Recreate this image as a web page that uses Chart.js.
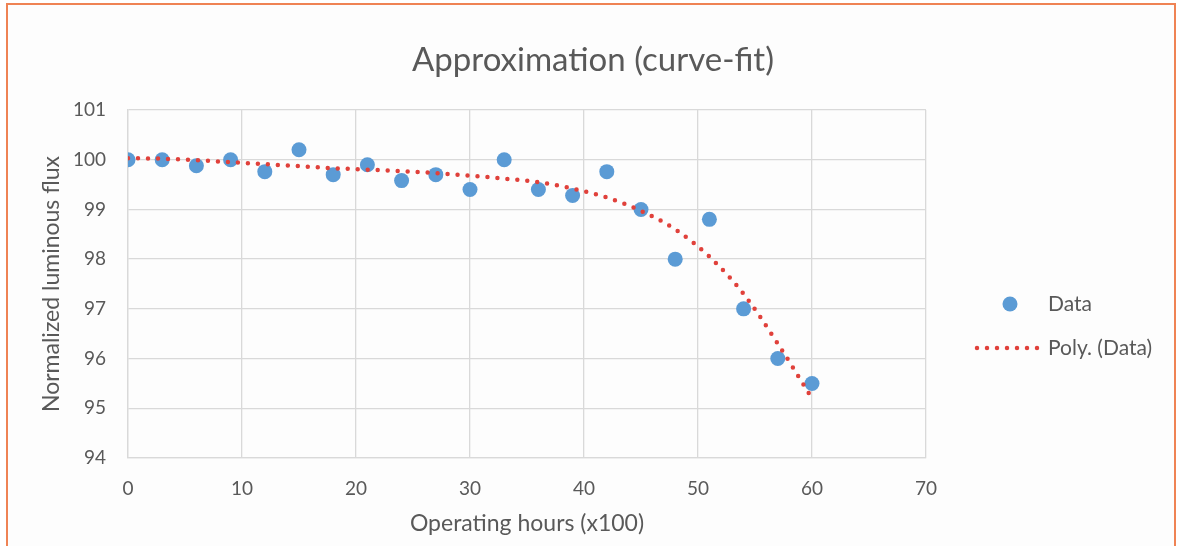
<!DOCTYPE html>
<html>
<head>
<meta charset="utf-8">
<script src="https://cdn.jsdelivr.net/npm/chart.js@4.4.1/dist/chart.umd.min.js"></script>
<style>
  html, body { margin: 0; padding: 0; background: #ffffff; }
  #wrap { position: relative; width: 1186px; height: 546px; overflow: hidden; }
  #frame {
    position: absolute; left: 6px; top: 3px; width: 1170px; height: 560px;
    border: 2px solid #EF8354; background: #fdfdfd; box-sizing: border-box;
  }
  canvas { position: absolute; left: 0; top: 0; }
</style>
</head>
<body>
<div id="wrap">
  <div id="frame"></div>
  <canvas id="myChart" width="1186" height="546"></canvas>
</div>
<script>
// operating hours (x100) and measured flux
const hours = [0, 3, 6, 9, 12, 15, 18, 21, 24, 27, 30, 33, 36, 39, 42, 45, 48, 51, 54, 57, 60];
const flux = [100, 100, 99.88, 100, 99.76, 100.2, 99.7, 99.9, 99.58, 99.7, 99.4, 100, 99.4, 99.28, 99.76, 99, 98, 98.8, 97, 96, 95.5];
// polynomial trendline
const trendFlux = [100.03, 100.02, 99.99, 99.95, 99.91, 99.87, 99.83, 99.8, 99.77, 99.73, 99.68, 99.62, 99.55, 99.42, 99.24, 98.97, 98.6, 98.05, 97.3, 96.3, 95.2];

const seriesNames = ["Data", "Poly. (Data)"];
const chartTitle = "Approximation (curve-fit)";
const textColor = "#595959";
const gridColor = "#D9D9D9";
const dotColor = "#5B9BD5";
const trendColor = "#E0413B";
const font = "Lato, 'Liberation Sans', sans-serif";

const toPoints = (xs, ys) => xs.map((x, i) => ({ x: x, y: ys[i] }));

// title centred on the whole canvas and legend on the right, drawn by hand
const titleAndLegend = {
  id: "titleAndLegend",
  afterDraw(chart) {
    const ctx = chart.ctx;
    ctx.save();
    ctx.fillStyle = textColor;
    ctx.font = "33px " + font;
    ctx.textAlign = "center";
    ctx.textBaseline = "middle";
    ctx.fillText(chartTitle, chart.width / 2, 60);

    ctx.fillStyle = dotColor;
    ctx.beginPath();
    ctx.arc(1010, 304, 7.5, 0, Math.PI * 2);
    ctx.fill();

    ctx.strokeStyle = trendColor;
    ctx.lineWidth = 4.5;
    ctx.lineCap = "round";
    ctx.setLineDash([0, 10]);
    ctx.beginPath();
    ctx.moveTo(977, 348);
    ctx.lineTo(1040, 348);
    ctx.stroke();
    ctx.setLineDash([]);

    ctx.fillStyle = textColor;
    ctx.font = "21px " + font;
    ctx.textAlign = "left";
    ctx.fillText(seriesNames[0], 1048, 304);
    ctx.fillText(seriesNames[1], 1048, 348);
    ctx.restore();
  }
};

new Chart(document.getElementById("myChart").getContext("2d"), {
  type: "scatter",
  data: {
    datasets: [
      {
        label: seriesNames[1],
        data: toPoints(hours, trendFlux),
        showLine: true,
        cubicInterpolationMode: "monotone",
        borderColor: trendColor,
        borderWidth: 4.5,
        borderDash: [0, 10],
        borderCapStyle: "round",
        pointRadius: 0,
        order: 0
      },
      {
        label: seriesNames[0],
        data: toPoints(hours, flux),
        backgroundColor: dotColor,
        borderWidth: 0,
        pointRadius: 7.5,
        pointHoverRadius: 7.5,
        order: 1
      }
    ]
  },
  options: {
    responsive: false,
    animation: false,
    events: [],
    layout: { padding: { left: 34, right: 260, top: 110, bottom: 5 } },
    plugins: {
      legend: { display: false },
      tooltip: { enabled: false },
      title: { display: false }
    },
    scales: {
      x: {
        type: "linear",
        min: 0,
        max: 70,
        ticks: { stepSize: 10, color: textColor, padding: 19, font: { family: font, size: 19 } },
        grid: { color: gridColor, lineWidth: 1.3, drawTicks: false },
        border: { color: gridColor, width: 1.3 },
        title: {
          display: true,
          text: "Operating hours (x100)",
          color: textColor,
          font: { family: font, size: 23 }
        },
        afterFit(scale) { scale.height = 83; }
      },
      y: {
        min: 94,
        max: 101,
        ticks: { stepSize: 1, color: textColor, padding: 22, font: { family: font, size: 19 } },
        grid: { color: gridColor, lineWidth: 1.3, drawTicks: false },
        border: { color: gridColor, width: 1.3 },
        title: {
          display: true,
          text: "Normalized luminous flux",
          color: textColor,
          font: { family: font, size: 23 }
        },
        afterFit(scale) { scale.width = 94; }
      }
    }
  },
  plugins: [titleAndLegend]
});
</script>
</body>
</html>
